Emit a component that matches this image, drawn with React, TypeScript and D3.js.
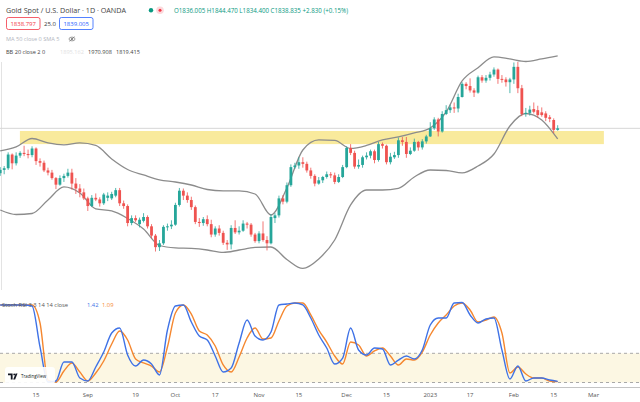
import React, { useMemo } from "react";
import * as d3 from "d3";

const WIDTH = 640;
const HEIGHT = 402;

const UP = "#26a69a";
const DOWN = "#ef5350";

// daily candles Aug 2 2022 .. Feb 16 2023 : [open, high, low, close]
const candles: [number, number, number, number][] = [
  [1757, 1768, 1752, 1763], [1763, 1770, 1755, 1766], [1766, 1795, 1763, 1791], [1791, 1793, 1764, 1775],
  [1775, 1795, 1771, 1789], [1789, 1797, 1785, 1794], [1794, 1807, 1788, 1792], [1792, 1800, 1784, 1790],
  [1790, 1806, 1786, 1802], [1802, 1804, 1772, 1779], [1779, 1784, 1769, 1776], [1776, 1780, 1759, 1762],
  [1762, 1767, 1753, 1758], [1758, 1763, 1745, 1748], [1748, 1750, 1728, 1736], [1736, 1753, 1734, 1748],
  [1748, 1756, 1741, 1752], [1752, 1765, 1749, 1758], [1758, 1765, 1727, 1738], [1738, 1748, 1719, 1729],
  [1729, 1737, 1713, 1722], [1722, 1729, 1708, 1711], [1711, 1714, 1688, 1697], [1697, 1717, 1695, 1712],
  [1712, 1720, 1706, 1709], [1709, 1713, 1696, 1702], [1702, 1721, 1699, 1718], [1712, 1722, 1706, 1716],
  [1711, 1723, 1708, 1719], [1716, 1730, 1713, 1726], [1726, 1730, 1697, 1702], [1702, 1707, 1692, 1697],
  [1697, 1700, 1660, 1666], [1666, 1680, 1662, 1675], [1675, 1680, 1668, 1671], [1664, 1676, 1658, 1672],
  [1670, 1684, 1667, 1677], [1677, 1680, 1656, 1660], [1660, 1664, 1638, 1643], [1643, 1646, 1614, 1622],
  [1622, 1635, 1615, 1629], [1629, 1662, 1626, 1659], [1659, 1665, 1652, 1660], [1660, 1671, 1655, 1663],
  [1663, 1703, 1661, 1699], [1699, 1730, 1696, 1725], [1725, 1729, 1708, 1716], [1716, 1722, 1703, 1708],
  [1708, 1714, 1690, 1695], [1695, 1698, 1664, 1668], [1668, 1675, 1659, 1666], [1666, 1677, 1661, 1673],
  [1673, 1680, 1660, 1664], [1664, 1672, 1640, 1645], [1645, 1660, 1641, 1656], [1656, 1662, 1643, 1648],
  [1648, 1652, 1626, 1630], [1630, 1635, 1617, 1627], [1627, 1662, 1618, 1657], [1657, 1671, 1646, 1649],
  [1649, 1660, 1645, 1652], [1652, 1671, 1650, 1665], [1665, 1668, 1656, 1663], [1663, 1666, 1641, 1645],
  [1645, 1648, 1630, 1633], [1633, 1651, 1629, 1647], [1647, 1669, 1632, 1635], [1635, 1642, 1616, 1629],
  [1629, 1682, 1627, 1677], [1675, 1684, 1666, 1680], [1680, 1716, 1676, 1711], [1711, 1717, 1700, 1705],
  [1705, 1740, 1702, 1735], [1735, 1773, 1732, 1768], [1768, 1776, 1765, 1771], [1771, 1786, 1765, 1777],
  [1777, 1786, 1767, 1774], [1774, 1778, 1758, 1762], [1762, 1767, 1747, 1752], [1752, 1755, 1733, 1738],
  [1738, 1750, 1736, 1744], [1744, 1752, 1739, 1750], [1750, 1760, 1747, 1755], [1755, 1759, 1748, 1753],
  [1753, 1758, 1737, 1741], [1741, 1755, 1739, 1750], [1750, 1772, 1748, 1768], [1768, 1806, 1766, 1803],
  [1803, 1810, 1790, 1794], [1794, 1798, 1765, 1769], [1769, 1782, 1765, 1772], [1772, 1789, 1767, 1786],
  [1786, 1795, 1782, 1789], [1789, 1800, 1784, 1797], [1797, 1800, 1775, 1781], [1781, 1814, 1778, 1810],
  [1810, 1813, 1802, 1807], [1807, 1809, 1773, 1777], [1777, 1794, 1773, 1787], [1786, 1796, 1783, 1790],
  [1790, 1822, 1785, 1817], [1817, 1823, 1807, 1814], [1814, 1823, 1785, 1792], [1792, 1804, 1790, 1798],
  [1798, 1820, 1796, 1814], [1814, 1816, 1798, 1804], [1804, 1819, 1800, 1815], [1815, 1827, 1811, 1824],
  [1824, 1850, 1823, 1839], [1839, 1859, 1836, 1855], [1855, 1858, 1824, 1833], [1833, 1870, 1831, 1865],
  [1865, 1881, 1863, 1872], [1872, 1882, 1867, 1877], [1877, 1886, 1867, 1875], [1875, 1902, 1868, 1896],
  [1896, 1923, 1895, 1920], [1920, 1923, 1910, 1916], [1916, 1930, 1904, 1908], [1908, 1912, 1896, 1904],
  [1904, 1935, 1902, 1932], [1932, 1936, 1922, 1926], [1926, 1936, 1922, 1931], [1931, 1942, 1926, 1937],
  [1937, 1950, 1933, 1946], [1946, 1948, 1920, 1929], [1929, 1936, 1922, 1928], [1928, 1932, 1915, 1923],
  [1923, 1931, 1903, 1928], [1928, 1959, 1920, 1951], [1951, 1960, 1903, 1912], [1912, 1918, 1861, 1865],
  [1865, 1876, 1860, 1867], [1867, 1880, 1862, 1873], [1874, 1886, 1866, 1869], [1872, 1880, 1858, 1863],
  [1868, 1877, 1860, 1863], [1866, 1870, 1852, 1858], [1859, 1863, 1850, 1856], [1854, 1857, 1830, 1836],
  [1836.005, 1844.47, 1834.4, 1838.835],
];

// Bollinger bands (20, 2) read every 4 bars
const bbBars = [0, 4, 8, 12, 16, 20, 24, 28, 32, 36, 40, 44, 48, 52, 56, 60, 64, 68,
  72, 76, 80, 84, 88, 92, 96, 100, 104, 108, 112, 116, 120, 124, 128, 132, 136, 140];
const bbUpper = [1797.5, 1804.8, 1820.3, 1812.1, 1808.5, 1812.1, 1807.5, 1782.9, 1763.7, 1753.7, 1744.6, 1740.9,
  1735.4, 1727.2, 1724.5, 1724.5, 1719.0, 1680.7, 1730.0, 1799.3, 1817.6, 1816.7, 1802.1, 1807.5,
  1817.6, 1823.1, 1830.4, 1839.5, 1868.7, 1925.3, 1949.5, 1969.1, 1965.4, 1960.8, 1965.4, 1970.9];
const bbLower = [1689.8, 1681.6, 1683.4, 1708.1, 1731.8, 1720.8, 1691.7, 1688.0, 1674.3, 1655.1, 1625.0, 1620.5,
  1619.6, 1616.8, 1612.3, 1616.8, 1621.4, 1622.3, 1599.5, 1583.1, 1600.4, 1635.1, 1699.0, 1726.3,
  1726.3, 1729.1, 1750.1, 1762.8, 1761.9, 1757.4, 1770.1, 1792.0, 1843.1, 1865.9, 1854.1, 1819.4];

// Stoch RSI read every 2 bars
const stochBars = [0, 2, 4, 6, 8, 10, 12, 14, 16, 18, 20, 22, 24, 26, 28, 30, 32, 34, 36, 38, 40, 42, 44, 46,
  48, 50, 52, 54, 56, 58, 60, 62, 64, 66, 68, 70, 72, 74, 76, 78, 80, 82, 84, 86, 88, 90, 92, 94, 96, 98,
  100, 102, 104, 106, 108, 110, 112, 114, 116, 118, 120, 122, 124, 126, 128, 130, 132, 134, 136, 138, 140];
const stochK = [96.9, 96.9, 96.9, 96.9, 95.6, 44.4, 0.6, 1.9, 25.6, 25.6,
  5.6, 1.9, 19.4, 38.1, 61.9, 68.1, 34.4, 20.6, 28.1, 23.1,
  9.4, 65.6, 95.6, 96.9, 75.6, 58.1, 53.1, 33.1, 13.1, 18.1,
  49.4, 78.1, 58.1, 53.1, 63.1, 96.9, 98.1, 99.4, 96.9, 80.6,
  59.4, 43.1, 23.1, 30.6, 68.1, 40.6, 34.4, 43.1, 41.9, 21.9,
  28.1, 33.1, 29.4, 40.6, 71.9, 80.6, 80.6, 99.4, 100, 84.4,
  74.4, 79.4, 80.6, 40.6, 4.4, 20.6, 1.9, 5.6, 5.6, 3.1, 1.42];
const stochD = [96.9, 96.9, 96.9, 96.9, 96.9, 74.4, 3.1, 0.6, 14.4, 24.4,
  13.1, 1.9, 11.9, 26.9, 48.1, 64.4, 53.1, 29.4, 24.4, 20.6,
  13.1, 44.4, 86.9, 96.9, 85.6, 64.4, 59.4, 45.6, 21.9, 13.1,
  31.9, 55.6, 68.1, 54.4, 55.6, 76.9, 95.6, 99.4, 99.4, 84.4,
  65.6, 50.6, 33.1, 23.1, 50.6, 46.9, 33.1, 39.4, 43.1, 33.1,
  21.9, 29.4, 28.1, 38.1, 59.4, 74.4, 84.4, 95.6, 99.4, 90.6,
  75.6, 78.1, 81.9, 61.9, 11.9, 19.4, 10.6, 5.6, 5.6, 1.9, 1.09];
const stochBand = [0, 36.5];

// support zone drawn by hand
const zonePrice = [1810, 1834];
const zoneBars = [4.95, 151.6];
const lastPrice = 1838.835;

const tickBars = [9, 22, 34, 44, 54, 65, 75, 87, 97, 108, 118, 129, 139, 149];
const tickLabels = ["15", "Sep", "19", "Oct", "17", "Nov", "15", "Dec", "15", "2023", "17", "Feb", "15", "Mar"];

const FONT = "'Open Sans', 'DejaVu Sans', sans-serif";

export default function App() {
  const x = useMemo(() => d3.scaleLinear().domain([0, 150]).range([0.2, 597.5]), []);
  const y = useMemo(() => d3.scaleLinear().domain([1600, 2000]).range([259.2, 40.0]), []);
  const ys = useMemo(() => d3.scaleLinear().domain([0, 100]).range([382.5, 302.5]), []);

  const bbLine = (vals: number[]) =>
    d3.line<number>()
      .x((_, i) => x(bbBars[i]))
      .y((d) => y(d))
      .curve(d3.curveMonotoneX)(vals) as string;

  const stLine = (vals: number[]) =>
    d3.line<number>()
      .x((_, i) => x(stochBars[i]))
      .y((d) => ys(d))
      .curve(d3.curveMonotoneX)(vals) as string;

  const bodyW = 2.8;

  return (
    <svg width={WIDTH} height={HEIGHT} style={{ position: "absolute", left: 0, top: 0, background: "#fff", fontFamily: FONT }}>
      <rect x={0} y={0} width={WIDTH} height={HEIGHT} fill="#fff" />

      {/* left border */}
      <line x1={1.5} x2={1.5} y1={62} y2={290} stroke="#e3e3e3" />

      {/* zone */}
      <rect
        x={x(zoneBars[0])}
        width={x(zoneBars[1]) - x(zoneBars[0])}
        y={y(zonePrice[1])}
        height={y(zonePrice[0]) - y(zonePrice[1])}
        fill="#f9ea9c"
      />

      {/* last price line */}
      <line x1={0} x2={WIDTH} y1={y(lastPrice)} y2={y(lastPrice)} stroke="#d6d6d6" strokeWidth={1} />

      {/* bollinger */}
      <path d={bbLine(bbUpper)} fill="none" stroke="#8c8c8c" strokeWidth={1.3} />
      <path d={bbLine(bbLower)} fill="none" stroke="#8c8c8c" strokeWidth={1.3} />

      {/* candles */}
      {candles.map(([o, h, l, c], i) => {
        const col = c >= o ? UP : DOWN;
        const cx = x(i);
        const top = y(Math.max(o, c));
        const bh = Math.max(1, y(Math.min(o, c)) - top);
        return (
          <g key={i}>
            <line x1={cx} x2={cx} y1={y(h)} y2={y(l)} stroke={col} strokeWidth={0.8} />
            <rect x={cx - bodyW / 2} y={top} width={bodyW} height={bh} fill={col} />
          </g>
        );
      })}

      {/* stoch rsi pane */}
      <rect x={0} y={ys(stochBand[1])} width={WIDTH} height={ys(stochBand[0]) - ys(stochBand[1])} fill="#fcf7e3" />
      <line x1={0} x2={WIDTH} y1={ys(stochBand[1])} y2={ys(stochBand[1])} stroke="#a8a8a8" strokeDasharray="3,3" />
      <line x1={0} x2={WIDTH} y1={ys(stochBand[0])} y2={ys(stochBand[0])} stroke="#a8a8a8" strokeDasharray="3,3" />
      <path d={stLine(stochD)} fill="none" stroke="#f5872f" strokeWidth={1.4} />
      <path d={stLine(stochK)} fill="none" stroke="#3f72e6" strokeWidth={1.4} />

      <text x={2} y={307} fontSize={5.8} fill="#555">Stoch RSI 3 3 14 14 close</text>
      <text x={87} y={307} fontSize={5.8} fill="#3f72e6">1.42</text>
      <text x={102} y={307} fontSize={5.8} fill="#f5872f">1.09</text>

      {/* tradingview mark */}
      <rect x={5} y={367} width={50} height={17} rx={3} fill="#fff" opacity={0.9} />
      <path d="M8,373.5 h4.6 v6 h-1.8 v-4.3 h-2.8 z" fill="#131722" />
      <circle cx={14.2} cy={374.4} r={0.9} fill="#131722" />
      <path d="M15.6,373.5 h1.9 l-2.4,6 h-1.9 z" fill="#131722" />
      <text x={21} y={378.3} fontSize={4.4} fill="#131722">TradingView</text>

      {/* time axis */}
      <line x1={0} x2={WIDTH} y1={387.5} y2={387.5} stroke="#c4c4c4" strokeWidth={1.2} />
      {tickBars.map((b, i) => (
        <text key={i} x={x(b)} y={397} fontSize={6} fill="#555" textAnchor="middle">
          {tickLabels[i]}
        </text>
      ))}

      {/* legend */}
      <text x={6} y={12.8} fontSize={7.2} fill="#444">Gold Spot / U.S. Dollar · 1D · OANDA</text>
      <circle cx={151} cy={10.3} r={2.2} fill="#089981" />
      <circle cx={160} cy={10.3} r={3.8} fill="#fcd9dc" />
      <circle cx={160} cy={10.3} r={1.5} fill="#f23645" />
      <text x={174} y={12.6} fontSize={6.2} fill="#089981">
        O1836.005 H1844.470 L1834.400 C1838.835 +2.830 (+0.15%)
      </text>

      <rect x={6.5} y={17.5} width={33.5} height={12} rx={2} fill="#fff" stroke="#f23645" strokeWidth={0.8} />
      <text x={23.2} y={25.8} fontSize={6} fill="#f23645" textAnchor="middle">1838.797</text>
      <text x={44} y={25.8} fontSize={6} fill="#333">25.0</text>
      <rect x={59.5} y={17.5} width={33.5} height={12} rx={2} fill="#fff" stroke="#2962ff" strokeWidth={0.8} />
      <text x={76.2} y={25.8} fontSize={6} fill="#2962ff" textAnchor="middle">1839.005</text>

      <text x={6} y={41} fontSize={5.6} fill="#b2b5be">MA 50 close 0 SMA 5</text>
      <g transform="translate(72,39)" stroke="#777" fill="none" strokeWidth={0.7}>
        <ellipse cx={0} cy={0} rx={3} ry={1.9} />
        <circle cx={0} cy={0} r={0.8} fill="#777" />
        <line x1={-2.5} y1={2.4} x2={2.5} y2={-2.4} />
      </g>

      <text x={6} y={54} fontSize={5.6} fill="#444">BB 20 close 2 0</text>
      <text x={60} y={54} fontSize={5.6} fill="#e2e2e2">1895.162</text>
      <text x={88} y={54} fontSize={5.6} fill="#444">1970.908</text>
      <text x={116} y={54} fontSize={5.6} fill="#444">1819.415</text>
    </svg>
  );
}
